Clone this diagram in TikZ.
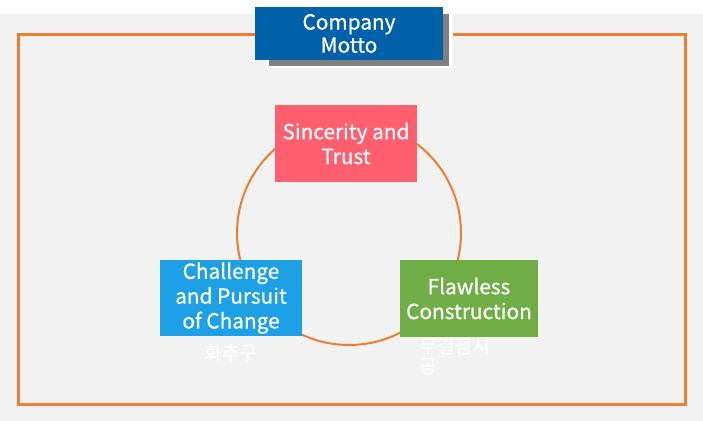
\documentclass[tikz,border=0pt]{standalone}
\usepackage{fontspec}
\setmainfont{Noto Sans CJK KR}
\newfontfamily\boxfont{Noto Sans CJK KR}[FakeBold=0.6]
\usepackage{tikz}
\usetikzlibrary{positioning, shapes.geometric}
\definecolor{mottoblue}{RGB}{0,96,168}
\definecolor{framegray}{RGB}{242,242,242}
\definecolor{ringorange}{RGB}{237,125,49}
\definecolor{trustred}{RGB}{255,95,110}
\definecolor{changeblue}{RGB}{30,160,230}
\definecolor{buildgreen}{RGB}{112,173,71}
\tikzset{
    valuebox/.style={rectangle, fill=#1, text=white, align=center, font=\boxfont\fontsize{15.6}{18.6}\selectfont, inner sep=0pt},
    titlebox/.style={rectangle, fill=mottoblue, text=white, align=center, font=\boxfont\fontsize{15.6}{17.3}\selectfont, minimum width=141pt, minimum height=39.75pt, inner sep=0pt},
    shadowbox/.style={rectangle, fill=gray, minimum width=135pt, minimum height=39pt, inner sep=0pt},
    ring/.style={circle, draw=ringorange, line width=1.5pt, minimum size=168pt, inner sep=0pt},
    subnote/.style={text=white, align=left, font=\fontsize{14.5}{15}\selectfont, inner sep=0pt}
}

\begin{document}
\begin{tikzpicture}[x=0.75pt, y=-0.75pt]
\useasboundingbox (0,0) rectangle (703,421);
\fill[white] (0,0) rectangle (703,421);
\fill[framegray] (0,14) rectangle (703,421);
\draw[ringorange, line width=2.25pt] (18,34) rectangle (685,404);

% title
\fill[white] (266,14) rectangle (453,68);
\node[shadowbox] (mottoshadow) at (359,40) {};
\node[titlebox] (motto) at (349,33.5) {Company\\Motto};

% cycle
\node[ring] (cycle) at (349,233) {};

\node[valuebox=trustred, minimum width=106.5pt, minimum height=57.75pt] (trust) at (346,143.5) {Sincerity and\\Trust};
\node[valuebox=changeblue, minimum width=106.5pt, minimum height=57pt] (change) at (231,298) {Challenge\\and Pursuit\\of Change};
\node[valuebox=buildgreen, minimum width=103.5pt, minimum height=57.75pt] (build) at (469,298.5) {Flawless\\Construction};

\node[subnote, below=6pt of change] (changenote) {화추구};
\node[subnote, anchor=north west] (buildnote) at (419,337) {무결점시\\공};

\end{tikzpicture}
\end{document}
